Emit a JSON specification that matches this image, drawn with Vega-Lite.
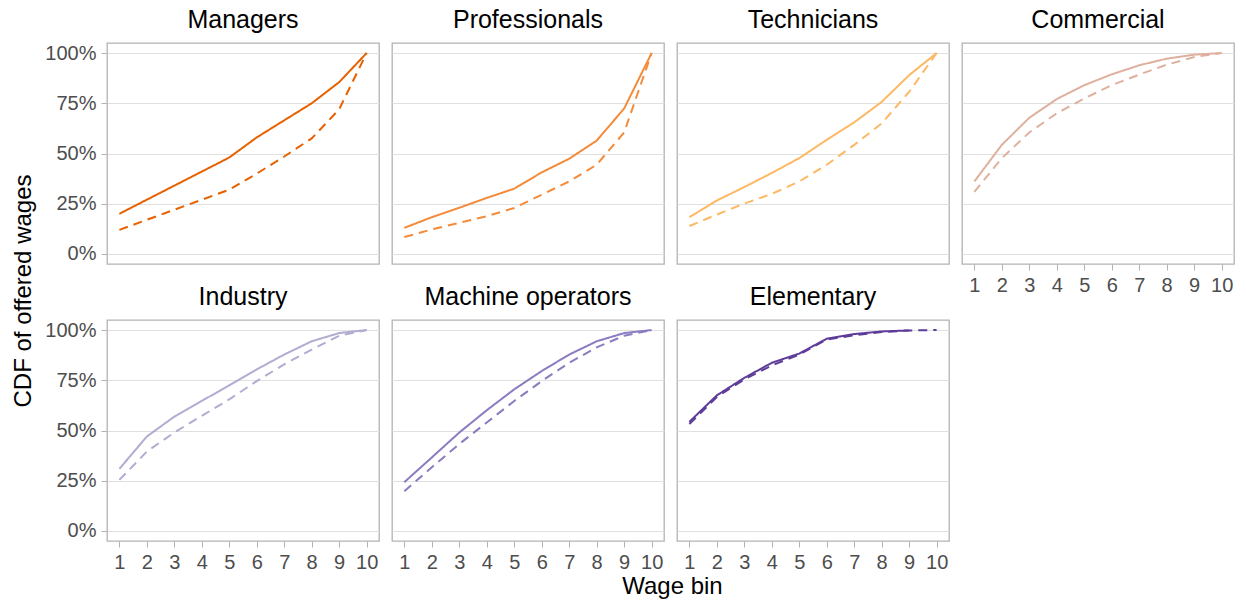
{
  "$schema": "https://vega.github.io/schema/vega-lite/v6.json",
  "padding": {"left": 12, "top": 7, "right": 5, "bottom": 5},
  "background": "white",
  "title": {"text": "CDF of offered wages", "orient": "left", "anchor": "middle", "fontSize": 24, "fontWeight": "normal", "color": "black", "offset": 8, "dx": 12},
  "datasets": {"cdf": [
    {"occ": "Managers", "grp": "1", "bin": 1, "cdf": 0.20},
    {"occ": "Managers", "grp": "1", "bin": 2, "cdf": 0.27},
    {"occ": "Managers", "grp": "1", "bin": 3, "cdf": 0.34},
    {"occ": "Managers", "grp": "1", "bin": 4, "cdf": 0.41},
    {"occ": "Managers", "grp": "1", "bin": 5, "cdf": 0.48},
    {"occ": "Managers", "grp": "1", "bin": 6, "cdf": 0.58},
    {"occ": "Managers", "grp": "1", "bin": 7, "cdf": 0.665},
    {"occ": "Managers", "grp": "1", "bin": 8, "cdf": 0.75},
    {"occ": "Managers", "grp": "1", "bin": 9, "cdf": 0.855},
    {"occ": "Managers", "grp": "1", "bin": 10, "cdf": 1.0},
    {"occ": "Managers", "grp": "2", "bin": 1, "cdf": 0.12},
    {"occ": "Managers", "grp": "2", "bin": 2, "cdf": 0.17},
    {"occ": "Managers", "grp": "2", "bin": 3, "cdf": 0.22},
    {"occ": "Managers", "grp": "2", "bin": 4, "cdf": 0.27},
    {"occ": "Managers", "grp": "2", "bin": 5, "cdf": 0.32},
    {"occ": "Managers", "grp": "2", "bin": 6, "cdf": 0.40},
    {"occ": "Managers", "grp": "2", "bin": 7, "cdf": 0.485},
    {"occ": "Managers", "grp": "2", "bin": 8, "cdf": 0.575},
    {"occ": "Managers", "grp": "2", "bin": 9, "cdf": 0.72},
    {"occ": "Managers", "grp": "2", "bin": 10, "cdf": 1.0},
    {"occ": "Professionals", "grp": "1", "bin": 1, "cdf": 0.13},
    {"occ": "Professionals", "grp": "1", "bin": 2, "cdf": 0.183},
    {"occ": "Professionals", "grp": "1", "bin": 3, "cdf": 0.23},
    {"occ": "Professionals", "grp": "1", "bin": 4, "cdf": 0.279},
    {"occ": "Professionals", "grp": "1", "bin": 5, "cdf": 0.325},
    {"occ": "Professionals", "grp": "1", "bin": 6, "cdf": 0.406},
    {"occ": "Professionals", "grp": "1", "bin": 7, "cdf": 0.474},
    {"occ": "Professionals", "grp": "1", "bin": 8, "cdf": 0.564},
    {"occ": "Professionals", "grp": "1", "bin": 9, "cdf": 0.724},
    {"occ": "Professionals", "grp": "1", "bin": 10, "cdf": 1.0},
    {"occ": "Professionals", "grp": "2", "bin": 1, "cdf": 0.084},
    {"occ": "Professionals", "grp": "2", "bin": 2, "cdf": 0.122},
    {"occ": "Professionals", "grp": "2", "bin": 3, "cdf": 0.155},
    {"occ": "Professionals", "grp": "2", "bin": 4, "cdf": 0.188},
    {"occ": "Professionals", "grp": "2", "bin": 5, "cdf": 0.229},
    {"occ": "Professionals", "grp": "2", "bin": 6, "cdf": 0.295},
    {"occ": "Professionals", "grp": "2", "bin": 7, "cdf": 0.361},
    {"occ": "Professionals", "grp": "2", "bin": 8, "cdf": 0.444},
    {"occ": "Professionals", "grp": "2", "bin": 9, "cdf": 0.605},
    {"occ": "Professionals", "grp": "2", "bin": 10, "cdf": 1.0},
    {"occ": "Technicians", "grp": "1", "bin": 1, "cdf": 0.183},
    {"occ": "Technicians", "grp": "1", "bin": 2, "cdf": 0.266},
    {"occ": "Technicians", "grp": "1", "bin": 3, "cdf": 0.333},
    {"occ": "Technicians", "grp": "1", "bin": 4, "cdf": 0.403},
    {"occ": "Technicians", "grp": "1", "bin": 5, "cdf": 0.477},
    {"occ": "Technicians", "grp": "1", "bin": 6, "cdf": 0.568},
    {"occ": "Technicians", "grp": "1", "bin": 7, "cdf": 0.655},
    {"occ": "Technicians", "grp": "1", "bin": 8, "cdf": 0.757},
    {"occ": "Technicians", "grp": "1", "bin": 9, "cdf": 0.89},
    {"occ": "Technicians", "grp": "1", "bin": 10, "cdf": 1.0},
    {"occ": "Technicians", "grp": "2", "bin": 1, "cdf": 0.139},
    {"occ": "Technicians", "grp": "2", "bin": 2, "cdf": 0.196},
    {"occ": "Technicians", "grp": "2", "bin": 3, "cdf": 0.251},
    {"occ": "Technicians", "grp": "2", "bin": 4, "cdf": 0.299},
    {"occ": "Technicians", "grp": "2", "bin": 5, "cdf": 0.361},
    {"occ": "Technicians", "grp": "2", "bin": 6, "cdf": 0.444},
    {"occ": "Technicians", "grp": "2", "bin": 7, "cdf": 0.543},
    {"occ": "Technicians", "grp": "2", "bin": 8, "cdf": 0.65},
    {"occ": "Technicians", "grp": "2", "bin": 9, "cdf": 0.807},
    {"occ": "Technicians", "grp": "2", "bin": 10, "cdf": 1.0},
    {"occ": "Commercial", "grp": "1", "bin": 1, "cdf": 0.361},
    {"occ": "Commercial", "grp": "1", "bin": 2, "cdf": 0.543},
    {"occ": "Commercial", "grp": "1", "bin": 3, "cdf": 0.678},
    {"occ": "Commercial", "grp": "1", "bin": 4, "cdf": 0.771},
    {"occ": "Commercial", "grp": "1", "bin": 5, "cdf": 0.84},
    {"occ": "Commercial", "grp": "1", "bin": 6, "cdf": 0.894},
    {"occ": "Commercial", "grp": "1", "bin": 7, "cdf": 0.939},
    {"occ": "Commercial", "grp": "1", "bin": 8, "cdf": 0.972},
    {"occ": "Commercial", "grp": "1", "bin": 9, "cdf": 0.992},
    {"occ": "Commercial", "grp": "1", "bin": 10, "cdf": 1.0},
    {"occ": "Commercial", "grp": "2", "bin": 1, "cdf": 0.309},
    {"occ": "Commercial", "grp": "2", "bin": 2, "cdf": 0.477},
    {"occ": "Commercial", "grp": "2", "bin": 3, "cdf": 0.605},
    {"occ": "Commercial", "grp": "2", "bin": 4, "cdf": 0.70},
    {"occ": "Commercial", "grp": "2", "bin": 5, "cdf": 0.774},
    {"occ": "Commercial", "grp": "2", "bin": 6, "cdf": 0.84},
    {"occ": "Commercial", "grp": "2", "bin": 7, "cdf": 0.893},
    {"occ": "Commercial", "grp": "2", "bin": 8, "cdf": 0.942},
    {"occ": "Commercial", "grp": "2", "bin": 9, "cdf": 0.98},
    {"occ": "Commercial", "grp": "2", "bin": 10, "cdf": 1.0},
    {"occ": "Industry", "grp": "1", "bin": 1, "cdf": 0.309},
    {"occ": "Industry", "grp": "1", "bin": 2, "cdf": 0.47},
    {"occ": "Industry", "grp": "1", "bin": 3, "cdf": 0.569},
    {"occ": "Industry", "grp": "1", "bin": 4, "cdf": 0.647},
    {"occ": "Industry", "grp": "1", "bin": 5, "cdf": 0.725},
    {"occ": "Industry", "grp": "1", "bin": 6, "cdf": 0.804},
    {"occ": "Industry", "grp": "1", "bin": 7, "cdf": 0.878},
    {"occ": "Industry", "grp": "1", "bin": 8, "cdf": 0.944},
    {"occ": "Industry", "grp": "1", "bin": 9, "cdf": 0.985},
    {"occ": "Industry", "grp": "1", "bin": 10, "cdf": 1.0},
    {"occ": "Industry", "grp": "2", "bin": 1, "cdf": 0.254},
    {"occ": "Industry", "grp": "2", "bin": 2, "cdf": 0.395},
    {"occ": "Industry", "grp": "2", "bin": 3, "cdf": 0.49},
    {"occ": "Industry", "grp": "2", "bin": 4, "cdf": 0.573},
    {"occ": "Industry", "grp": "2", "bin": 5, "cdf": 0.655},
    {"occ": "Industry", "grp": "2", "bin": 6, "cdf": 0.746},
    {"occ": "Industry", "grp": "2", "bin": 7, "cdf": 0.829},
    {"occ": "Industry", "grp": "2", "bin": 8, "cdf": 0.903},
    {"occ": "Industry", "grp": "2", "bin": 9, "cdf": 0.972},
    {"occ": "Industry", "grp": "2", "bin": 10, "cdf": 1.0},
    {"occ": "Machine operators", "grp": "1", "bin": 1, "cdf": 0.243},
    {"occ": "Machine operators", "grp": "1", "bin": 2, "cdf": 0.366},
    {"occ": "Machine operators", "grp": "1", "bin": 3, "cdf": 0.49},
    {"occ": "Machine operators", "grp": "1", "bin": 4, "cdf": 0.601},
    {"occ": "Machine operators", "grp": "1", "bin": 5, "cdf": 0.705},
    {"occ": "Machine operators", "grp": "1", "bin": 6, "cdf": 0.796},
    {"occ": "Machine operators", "grp": "1", "bin": 7, "cdf": 0.878},
    {"occ": "Machine operators", "grp": "1", "bin": 8, "cdf": 0.944},
    {"occ": "Machine operators", "grp": "1", "bin": 9, "cdf": 0.985},
    {"occ": "Machine operators", "grp": "1", "bin": 10, "cdf": 1.0},
    {"occ": "Machine operators", "grp": "2", "bin": 1, "cdf": 0.198},
    {"occ": "Machine operators", "grp": "2", "bin": 2, "cdf": 0.317},
    {"occ": "Machine operators", "grp": "2", "bin": 3, "cdf": 0.433},
    {"occ": "Machine operators", "grp": "2", "bin": 4, "cdf": 0.54},
    {"occ": "Machine operators", "grp": "2", "bin": 5, "cdf": 0.647},
    {"occ": "Machine operators", "grp": "2", "bin": 6, "cdf": 0.746},
    {"occ": "Machine operators", "grp": "2", "bin": 7, "cdf": 0.837},
    {"occ": "Machine operators", "grp": "2", "bin": 8, "cdf": 0.914},
    {"occ": "Machine operators", "grp": "2", "bin": 9, "cdf": 0.972},
    {"occ": "Machine operators", "grp": "2", "bin": 10, "cdf": 1.0},
    {"occ": "Elementary", "grp": "1", "bin": 1, "cdf": 0.543},
    {"occ": "Elementary", "grp": "1", "bin": 2, "cdf": 0.675},
    {"occ": "Elementary", "grp": "1", "bin": 3, "cdf": 0.762},
    {"occ": "Elementary", "grp": "1", "bin": 4, "cdf": 0.837},
    {"occ": "Elementary", "grp": "1", "bin": 5, "cdf": 0.883},
    {"occ": "Elementary", "grp": "1", "bin": 6, "cdf": 0.957},
    {"occ": "Elementary", "grp": "1", "bin": 7, "cdf": 0.98},
    {"occ": "Elementary", "grp": "1", "bin": 8, "cdf": 0.993},
    {"occ": "Elementary", "grp": "1", "bin": 9, "cdf": 0.998},
    {"occ": "Elementary", "grp": "2", "bin": 1, "cdf": 0.532},
    {"occ": "Elementary", "grp": "2", "bin": 2, "cdf": 0.667},
    {"occ": "Elementary", "grp": "2", "bin": 3, "cdf": 0.754},
    {"occ": "Elementary", "grp": "2", "bin": 4, "cdf": 0.824},
    {"occ": "Elementary", "grp": "2", "bin": 5, "cdf": 0.878},
    {"occ": "Elementary", "grp": "2", "bin": 6, "cdf": 0.953},
    {"occ": "Elementary", "grp": "2", "bin": 7, "cdf": 0.974},
    {"occ": "Elementary", "grp": "2", "bin": 8, "cdf": 0.99},
    {"occ": "Elementary", "grp": "2", "bin": 9, "cdf": 0.998},
    {"occ": "Elementary", "grp": "2", "bin": 10, "cdf": 1.0}
  ]},
  "vconcat": [
    {
      "title": {"text": "Wage bin", "orient": "bottom", "anchor": "middle", "fontSize": 24, "fontWeight": "normal", "color": "black", "baseline": "top", "offset": 2, "dx": 33},
      "columns": 4,
      "bounds": "flush",
      "spacing": {"row": 56, "column": 13},
      "concat": [
        {
          "title": {"text": "Managers"},
          "data": {"name": "cdf"},
          "transform": [{"filter": "datum.occ === 'Managers'"}],
          "width": 272, "height": 221,
          "mark": {"type": "line", "strokeWidth": 2},
          "encoding": {
            "x": {"field": "bin", "type": "quantitative", "scale": {"domain": [0.55, 10.45], "nice": false, "zero": false}, "axis": null},
            "y": {"field": "cdf", "type": "quantitative", "scale": {"domain": [-0.05, 1.05], "nice": false, "zero": false}, "axis": {"values": [0, 0.25, 0.5, 0.75, 1], "format": ".0%", "title": null}},
            "color": {"field": "occ", "type": "nominal", "legend": null, "scale": {"domain": ["Managers", "Professionals", "Technicians", "Commercial", "Industry", "Machine operators", "Elementary"], "range": ["#e66101", "#f48b3a", "#fdb863", "#dfb09e", "#b2abd2", "#8c7bc1", "#5e3c99"]}},
            "strokeDash": {"field": "grp", "type": "nominal", "legend": null, "scale": {"domain": ["1", "2"], "range": [[1, 0], [9, 6]]}}
          }
        },
        {
          "title": {"text": "Professionals"},
          "data": {"name": "cdf"},
          "transform": [{"filter": "datum.occ === 'Professionals'"}],
          "width": 272, "height": 221,
          "mark": {"type": "line", "strokeWidth": 2},
          "encoding": {
            "x": {"field": "bin", "type": "quantitative", "scale": {"domain": [0.55, 10.45], "nice": false, "zero": false}, "axis": null},
            "y": {"field": "cdf", "type": "quantitative", "scale": {"domain": [-0.05, 1.05], "nice": false, "zero": false}, "axis": {"values": [0, 0.25, 0.5, 0.75, 1], "labels": false, "ticks": false, "title": null}},
            "color": {"field": "occ", "type": "nominal", "legend": null, "scale": {"domain": ["Managers", "Professionals", "Technicians", "Commercial", "Industry", "Machine operators", "Elementary"], "range": ["#e66101", "#f48b3a", "#fdb863", "#dfb09e", "#b2abd2", "#8c7bc1", "#5e3c99"]}},
            "strokeDash": {"field": "grp", "type": "nominal", "legend": null, "scale": {"domain": ["1", "2"], "range": [[1, 0], [9, 6]]}}
          }
        },
        {
          "title": {"text": "Technicians"},
          "data": {"name": "cdf"},
          "transform": [{"filter": "datum.occ === 'Technicians'"}],
          "width": 272, "height": 221,
          "mark": {"type": "line", "strokeWidth": 2},
          "encoding": {
            "x": {"field": "bin", "type": "quantitative", "scale": {"domain": [0.55, 10.45], "nice": false, "zero": false}, "axis": null},
            "y": {"field": "cdf", "type": "quantitative", "scale": {"domain": [-0.05, 1.05], "nice": false, "zero": false}, "axis": {"values": [0, 0.25, 0.5, 0.75, 1], "labels": false, "ticks": false, "title": null}},
            "color": {"field": "occ", "type": "nominal", "legend": null, "scale": {"domain": ["Managers", "Professionals", "Technicians", "Commercial", "Industry", "Machine operators", "Elementary"], "range": ["#e66101", "#f48b3a", "#fdb863", "#dfb09e", "#b2abd2", "#8c7bc1", "#5e3c99"]}},
            "strokeDash": {"field": "grp", "type": "nominal", "legend": null, "scale": {"domain": ["1", "2"], "range": [[1, 0], [9, 6]]}}
          }
        },
        {
          "title": {"text": "Commercial"},
          "data": {"name": "cdf"},
          "transform": [{"filter": "datum.occ === 'Commercial'"}],
          "width": 272, "height": 221,
          "mark": {"type": "line", "strokeWidth": 2},
          "encoding": {
            "x": {"field": "bin", "type": "quantitative", "scale": {"domain": [0.55, 10.45], "nice": false, "zero": false}, "axis": {"values": [1, 2, 3, 4, 5, 6, 7, 8, 9, 10], "title": null, "grid": false}},
            "y": {"field": "cdf", "type": "quantitative", "scale": {"domain": [-0.05, 1.05], "nice": false, "zero": false}, "axis": {"values": [0, 0.25, 0.5, 0.75, 1], "labels": false, "ticks": false, "title": null}},
            "color": {"field": "occ", "type": "nominal", "legend": null, "scale": {"domain": ["Managers", "Professionals", "Technicians", "Commercial", "Industry", "Machine operators", "Elementary"], "range": ["#e66101", "#f48b3a", "#fdb863", "#dfb09e", "#b2abd2", "#8c7bc1", "#5e3c99"]}},
            "strokeDash": {"field": "grp", "type": "nominal", "legend": null, "scale": {"domain": ["1", "2"], "range": [[1, 0], [9, 6]]}}
          }
        },
        {
          "title": {"text": "Industry"},
          "data": {"name": "cdf"},
          "transform": [{"filter": "datum.occ === 'Industry'"}],
          "width": 272, "height": 221,
          "mark": {"type": "line", "strokeWidth": 2},
          "encoding": {
            "x": {"field": "bin", "type": "quantitative", "scale": {"domain": [0.55, 10.45], "nice": false, "zero": false}, "axis": {"values": [1, 2, 3, 4, 5, 6, 7, 8, 9, 10], "title": null, "grid": false}},
            "y": {"field": "cdf", "type": "quantitative", "scale": {"domain": [-0.05, 1.05], "nice": false, "zero": false}, "axis": {"values": [0, 0.25, 0.5, 0.75, 1], "format": ".0%", "title": null}},
            "color": {"field": "occ", "type": "nominal", "legend": null, "scale": {"domain": ["Managers", "Professionals", "Technicians", "Commercial", "Industry", "Machine operators", "Elementary"], "range": ["#e66101", "#f48b3a", "#fdb863", "#dfb09e", "#b2abd2", "#8c7bc1", "#5e3c99"]}},
            "strokeDash": {"field": "grp", "type": "nominal", "legend": null, "scale": {"domain": ["1", "2"], "range": [[1, 0], [9, 6]]}}
          }
        },
        {
          "title": {"text": "Machine operators"},
          "data": {"name": "cdf"},
          "transform": [{"filter": "datum.occ === 'Machine operators'"}],
          "width": 272, "height": 221,
          "mark": {"type": "line", "strokeWidth": 2},
          "encoding": {
            "x": {"field": "bin", "type": "quantitative", "scale": {"domain": [0.55, 10.45], "nice": false, "zero": false}, "axis": {"values": [1, 2, 3, 4, 5, 6, 7, 8, 9, 10], "title": null, "grid": false}},
            "y": {"field": "cdf", "type": "quantitative", "scale": {"domain": [-0.05, 1.05], "nice": false, "zero": false}, "axis": {"values": [0, 0.25, 0.5, 0.75, 1], "labels": false, "ticks": false, "title": null}},
            "color": {"field": "occ", "type": "nominal", "legend": null, "scale": {"domain": ["Managers", "Professionals", "Technicians", "Commercial", "Industry", "Machine operators", "Elementary"], "range": ["#e66101", "#f48b3a", "#fdb863", "#dfb09e", "#b2abd2", "#8c7bc1", "#5e3c99"]}},
            "strokeDash": {"field": "grp", "type": "nominal", "legend": null, "scale": {"domain": ["1", "2"], "range": [[1, 0], [9, 6]]}}
          }
        },
        {
          "title": {"text": "Elementary"},
          "data": {"name": "cdf"},
          "transform": [{"filter": "datum.occ === 'Elementary'"}],
          "width": 272, "height": 221,
          "mark": {"type": "line", "strokeWidth": 2},
          "encoding": {
            "x": {"field": "bin", "type": "quantitative", "scale": {"domain": [0.55, 10.45], "nice": false, "zero": false}, "axis": {"values": [1, 2, 3, 4, 5, 6, 7, 8, 9, 10], "title": null, "grid": false}},
            "y": {"field": "cdf", "type": "quantitative", "scale": {"domain": [-0.05, 1.05], "nice": false, "zero": false}, "axis": {"values": [0, 0.25, 0.5, 0.75, 1], "labels": false, "ticks": false, "title": null}},
            "color": {"field": "occ", "type": "nominal", "legend": null, "scale": {"domain": ["Managers", "Professionals", "Technicians", "Commercial", "Industry", "Machine operators", "Elementary"], "range": ["#e66101", "#f48b3a", "#fdb863", "#dfb09e", "#b2abd2", "#8c7bc1", "#5e3c99"]}},
            "strokeDash": {"field": "grp", "type": "nominal", "legend": null, "scale": {"domain": ["1", "2"], "range": [[1, 0], [9, 6]]}}
          }
        }
      ]
    }
  ],
  "config": {
    "font": "Liberation Sans",
    "view": {"stroke": "#b3b3b3", "strokeWidth": 1.3},
    "title": {"fontSize": 25, "fontWeight": "normal", "color": "black", "anchor": "middle", "baseline": "alphabetic", "offset": 10},
    "axis": {
      "domain": false,
      "tickColor": "#b3b3b3",
      "tickSize": 6,
      "labelFontSize": 20,
      "labelColor": "#4d4d4d",
      "labelPadding": 5,
      "gridColor": "#e0e0e0",
      "gridWidth": 1
    }
  }
}
